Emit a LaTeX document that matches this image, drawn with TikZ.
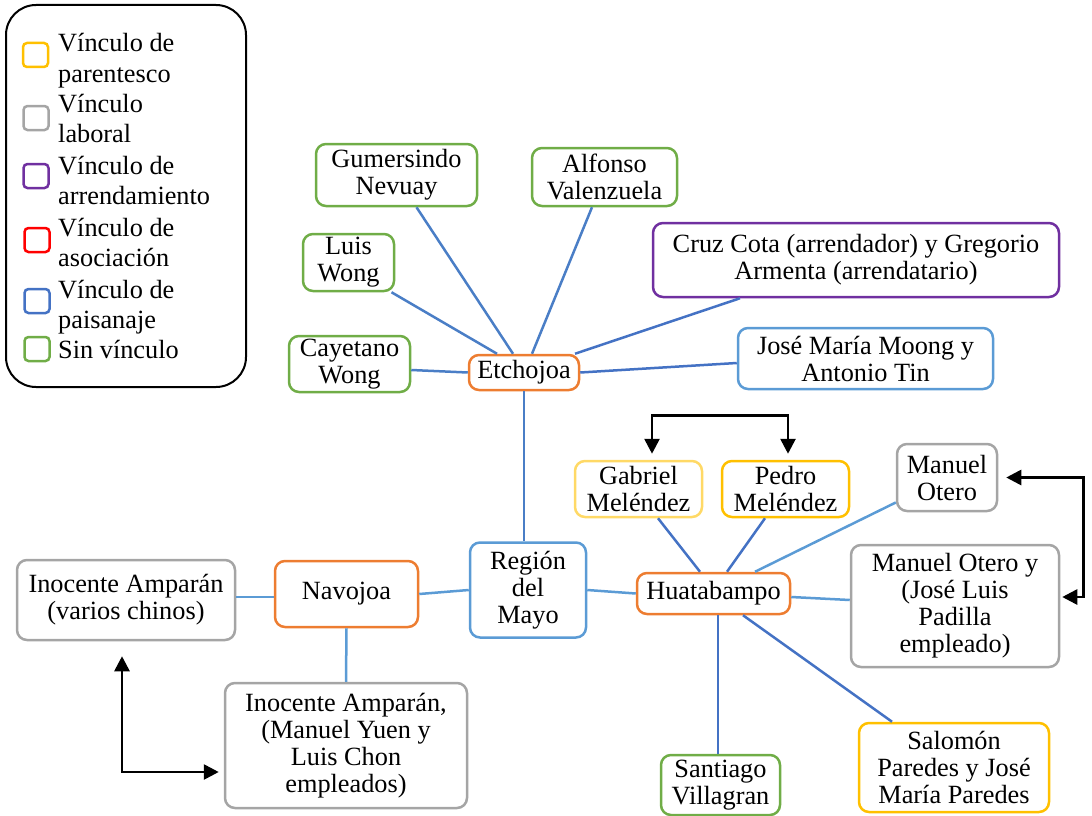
\documentclass[tikz,border=0pt]{standalone}
\usepackage{fontspec}
\setmainfont{Liberation Serif}
\usetikzlibrary{arrows.meta}
\definecolor{corange}{HTML}{ED7D31}
\definecolor{cgreen}{HTML}{70AD47}
\definecolor{cgray}{HTML}{A5A5A5}
\definecolor{cpurple}{HTML}{7030A0}
\definecolor{cred}{HTML}{FF0000}
\definecolor{cblue}{HTML}{4472C4}
\definecolor{clblue}{HTML}{5B9BD5}
\definecolor{cyellow}{HTML}{FFC000}
\definecolor{clyellow}{HTML}{FFD966}
\definecolor{cconn}{HTML}{4A7EC6}
\tikzset{
  box/.style={draw, rounded corners=10pt, line width=2.5pt, align=center, inner sep=0pt,
    font=\fontsize{26.3}{27}\selectfont},
  legsq/.style={draw, rounded corners=4pt, line width=2.5pt, minimum width=25pt, minimum height=24pt, inner sep=0pt},
  legtxt/.style={anchor=base west, inner sep=0pt, font=\fontsize{26.3}{27}\selectfont},
  conn/.style={draw=cconn, line width=2.5pt},
  connl/.style={draw=clblue, line width=2.5pt},
  arr/.style={draw=black, line width=2.7pt, {Triangle[width=15pt,length=15pt]}-{Triangle[width=15pt,length=15pt]}}
}
\begin{document}
\begin{tikzpicture}[x=1pt,y=-1pt]
\useasboundingbox (0,0) rectangle (1092,816);
% legend
\node[draw, rounded corners=30pt, line width=2pt, minimum width=240pt, minimum height=382pt, inner sep=0pt] (leg) at (126,196) {};
\node[legsq, draw=cyellow] (sq1) at (35.5,55) {};
\node[legsq, draw=cgray] (sq2) at (36,118) {};
\node[legsq, draw=cpurple] (sq3) at (36,176) {};
\node[legsq, draw=cred] (sq4) at (37,240) {};
\node[legsq, draw=cblue] (sq5) at (37,301) {};
\node[legsq, draw=cgreen] (sq6) at (37,349) {};
\node[legtxt] (l1) at (58,52) {Vínculo de};
\node[legtxt] (l2) at (58,82) {parentesco};
\node[legtxt] (l3) at (58,112) {Vínculo};
\node[legtxt] (l4) at (58,142) {laboral};
\node[legtxt] (l5) at (58,174) {Vínculo de};
\node[legtxt] (l6) at (58,204) {arrendamiento};
\node[legtxt] (l7) at (58,236) {Vínculo de};
\node[legtxt] (l8) at (58,266) {asociación};
\node[legtxt] (l9) at (58,298) {Vínculo de};
\node[legtxt] (l10) at (58,328) {paisanaje};
\node[legtxt] (l11) at (58,358) {Sin vínculo};
% nodes
\node[box, draw=cgreen, minimum width=161pt, minimum height=62pt] (gum) at (396.5,175) {Gumersindo\\Nevuay};
\node[box, draw=cgreen, minimum width=145pt, minimum height=58pt] (alf) at (604.5,177) {Alfonso\\Valenzuela};
\node[box, draw=cgreen, minimum width=91pt, minimum height=57pt] (lw) at (348.5,262.5) {Luis\\Wong};
\node[box, draw=cgreen, minimum width=121pt, minimum height=56pt] (cay) at (349.5,364) {Cayetano\\Wong};
\node[box, draw=corange, minimum width=110pt, minimum height=35pt] (etch) at (524,372.5) {Etchojoa};
\node[box, draw=cpurple, minimum width=406pt, minimum height=74pt] (cruz) at (856,260) {Cruz Cota (arrendador) y Gregorio\\Armenta (arrendatario)};
\node[box, draw=clblue, minimum width=255pt, minimum height=61pt] (moong) at (865.5,358.5) {José María Moong y\\Antonio Tin};
\node[box, draw=clblue, minimum width=116pt, minimum height=95pt] (reg) at (528,590) {Región\\del\\Mayo};
\node[box, draw=corange, minimum width=143pt, minimum height=66pt] (nav) at (346.5,594) {Navojoa};
\node[box, draw=cgray, minimum width=218pt, minimum height=80pt] (ino1) at (126,600) {Inocente Amparán\\(varios chinos)};
\node[box, draw=cgray, minimum width=242pt, minimum height=125pt] (ino2) at (346,745.5) {Inocente Amparán,\\(Manuel Yuen y\\Luis Chon\\empleados)};
\node[box, draw=corange, minimum width=153pt, minimum height=41pt] (huat) at (713.5,593.5) {Huatabampo};
\node[box, draw=clyellow, minimum width=127pt, minimum height=56pt] (gab) at (638.5,489) {Gabriel\\Meléndez};
\node[box, draw=cyellow, minimum width=127pt, minimum height=56pt] (ped) at (785.5,489) {Pedro\\Meléndez};
\node[box, draw=cgray, minimum width=100pt, minimum height=67pt] (ote) at (947,477.5) {Manuel\\Otero};
\node[box, draw=cgray, minimum width=208pt, minimum height=122pt] (otey) at (955,606) {Manuel Otero y\\(José Luis\\Padilla\\empleado)};
\node[box, draw=cgreen, minimum width=119pt, minimum height=60pt] (sant) at (720.5,785) {Santiago\\Villagran};
\node[box, draw=cyellow, minimum width=190pt, minimum height=89pt] (sal) at (954,767.5) {Salomón\\Paredes y José\\María Paredes};
% connectors
\draw[conn] ([xshift=20pt]gum.south) -- ([xshift=-11pt]etch.north);
\draw[conn] ([xshift=-12.5pt]alf.south) -- ([xshift=8pt]etch.north);
\draw[conn] ([xshift=43pt]lw.south) -- ([xshift=-27pt]etch.north);
\draw[conn] ([yshift=-6pt]cay.east) -- (etch.west);
\draw[conn, draw=cblue] ([xshift=51pt]etch.north) -- ([xshift=-116pt]cruz.south);
\draw[conn, draw=cblue] (etch.east) -- ([yshift=-4.5pt]moong.west);
\draw[conn] (etch.south) -- ([xshift=-4pt]reg.north);
\draw[connl] (reg.west) -- (nav.east);
\draw[connl] ([yshift=-3pt]nav.west) -- ([yshift=3pt]ino1.east);
\draw[connl] (nav.south) -- (ino2.north);
\draw[connl] (reg.east) -- (huat.west);
\draw[conn, draw=cblue] ([xshift=-13.5pt]huat.north) -- ([xshift=19.5pt]gab.south);
\draw[conn, draw=cblue] ([xshift=13.5pt]huat.north) -- ([xshift=-20.5pt]ped.south);
\draw[connl] ([xshift=41.5pt]huat.north) -- ([yshift=-25pt]ote.west);
\draw[connl] ([yshift=-3.5pt]huat.east) -- ([yshift=6pt]otey.west);
\draw[conn, draw=cblue] ([xshift=4.5pt]huat.south) -- ([xshift=-2.5pt]sant.north);
\draw[conn, draw=cblue] ([xshift=29.5pt]huat.south) -- ([xshift=-62pt]sal.north);
% black arrows
\draw[arr] ([xshift=13.5pt,yshift=6pt]gab.north) -- ++(0,-38) -| ([xshift=2.5pt,yshift=6pt]ped.north);
\draw[arr] ([xshift=8pt]ote.east) -- ++(77,0) |- ([xshift=2pt,yshift=9pt]otey.east);
\draw[arr] ([xshift=-4pt,yshift=-15pt]ino1.south) |- ([xshift=-5pt,yshift=-26.5pt]ino2.west);
\end{tikzpicture}
\end{document}
